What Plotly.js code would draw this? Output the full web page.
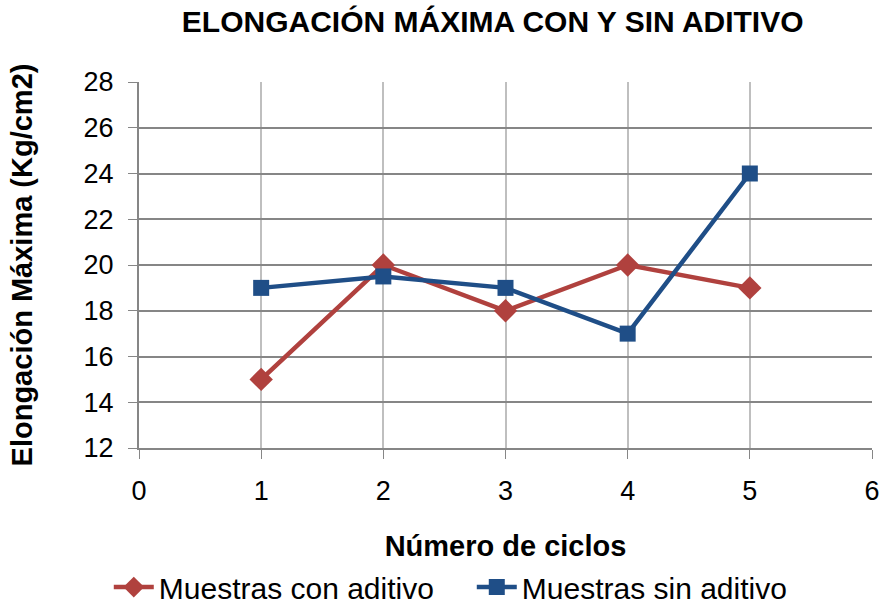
<!DOCTYPE html>
<html>
<head>
<meta charset="utf-8">
<script src="https://cdn.plot.ly/plotly-3.0.1.min.js"></script>
<style>html,body{margin:0;padding:0;background:#fff;}#chart{width:883px;height:604px;}</style>
</head>
<body>
<div id="chart"></div>
<script>
const ciclos = [1, 2, 3, 4, 5];
const conAditivo = [15, 20, 18, 20, 19];
const sinAditivo = [19, 19.5, 19, 17, 24];
const xTicks = [0, 1, 2, 3, 4, 5, 6];
const yTicks = [12, 14, 16, 18, 20, 22, 24, 26, 28];

const font = '"Liberation Sans", Arial, sans-serif';
const traces = [
  {x: ciclos, y: conAditivo, name: 'Muestras con aditivo', mode: 'lines+markers',
   line: {color: '#B0413E', width: 4.5}, marker: {symbol: 'diamond', size: 18, color: '#B0413E'}},
  {x: ciclos, y: sinAditivo, name: 'Muestras sin aditivo', mode: 'lines+markers',
   line: {color: '#1F4E87', width: 4.5}, marker: {symbol: 'square', size: 16, color: '#1F4E87'}}
];
const layout = {
  width: 883, height: 604,
  margin: {l: 139, r: 11, t: 82, b: 156, autoexpand: false},
  paper_bgcolor: '#fff', plot_bgcolor: '#fff',
  font: {family: font, color: '#000', size: 27},
  title: {text: '<b>ELONGACIÓN MÁXIMA CON Y SIN ADITIVO</b>', font: {size: 30, family: font},
          x: 0.558, xanchor: 'center', y: 0.964, yanchor: 'middle'},
  xaxis: {range: [0, 6], tickvals: xTicks, ticks: 'outside', ticklen: 9, tickcolor: '#868686',
          showgrid: true, gridcolor: '#BFBFBF', gridwidth: 2, zeroline: false, automargin: false,
          showline: true, linecolor: '#868686', linewidth: 2, ticklabelstandoff: 9,
          tickfont: {size: 27},
          title: {text: '<b>Número de ciclos</b>', font: {size: 29}, standoff: 30}},
  yaxis: {range: [12, 28], tickvals: yTicks, ticks: 'outside', ticklen: 9, tickcolor: '#868686',
          showgrid: true, gridcolor: '#868686', gridwidth: 2, zeroline: false, automargin: false,
          showline: true, linecolor: '#868686', linewidth: 2, ticklabelstandoff: 9,
          tickfont: {size: 27},
          title: {text: '<b>Elongación Máxima (Kg/cm2)</b>', font: {size: 29}, standoff: 42}},
  showlegend: true,
  legend: {orientation: 'h', x: 0.454, xanchor: 'center', y: -0.309, yanchor: 'top',
           font: {size: 30}, itemwidth: 40, entrywidth: 308, traceorder: 'normal'}
};
Plotly.newPlot('chart', traces, layout, {displayModeBar: false, staticPlot: true});
</script>
</body>
</html>
